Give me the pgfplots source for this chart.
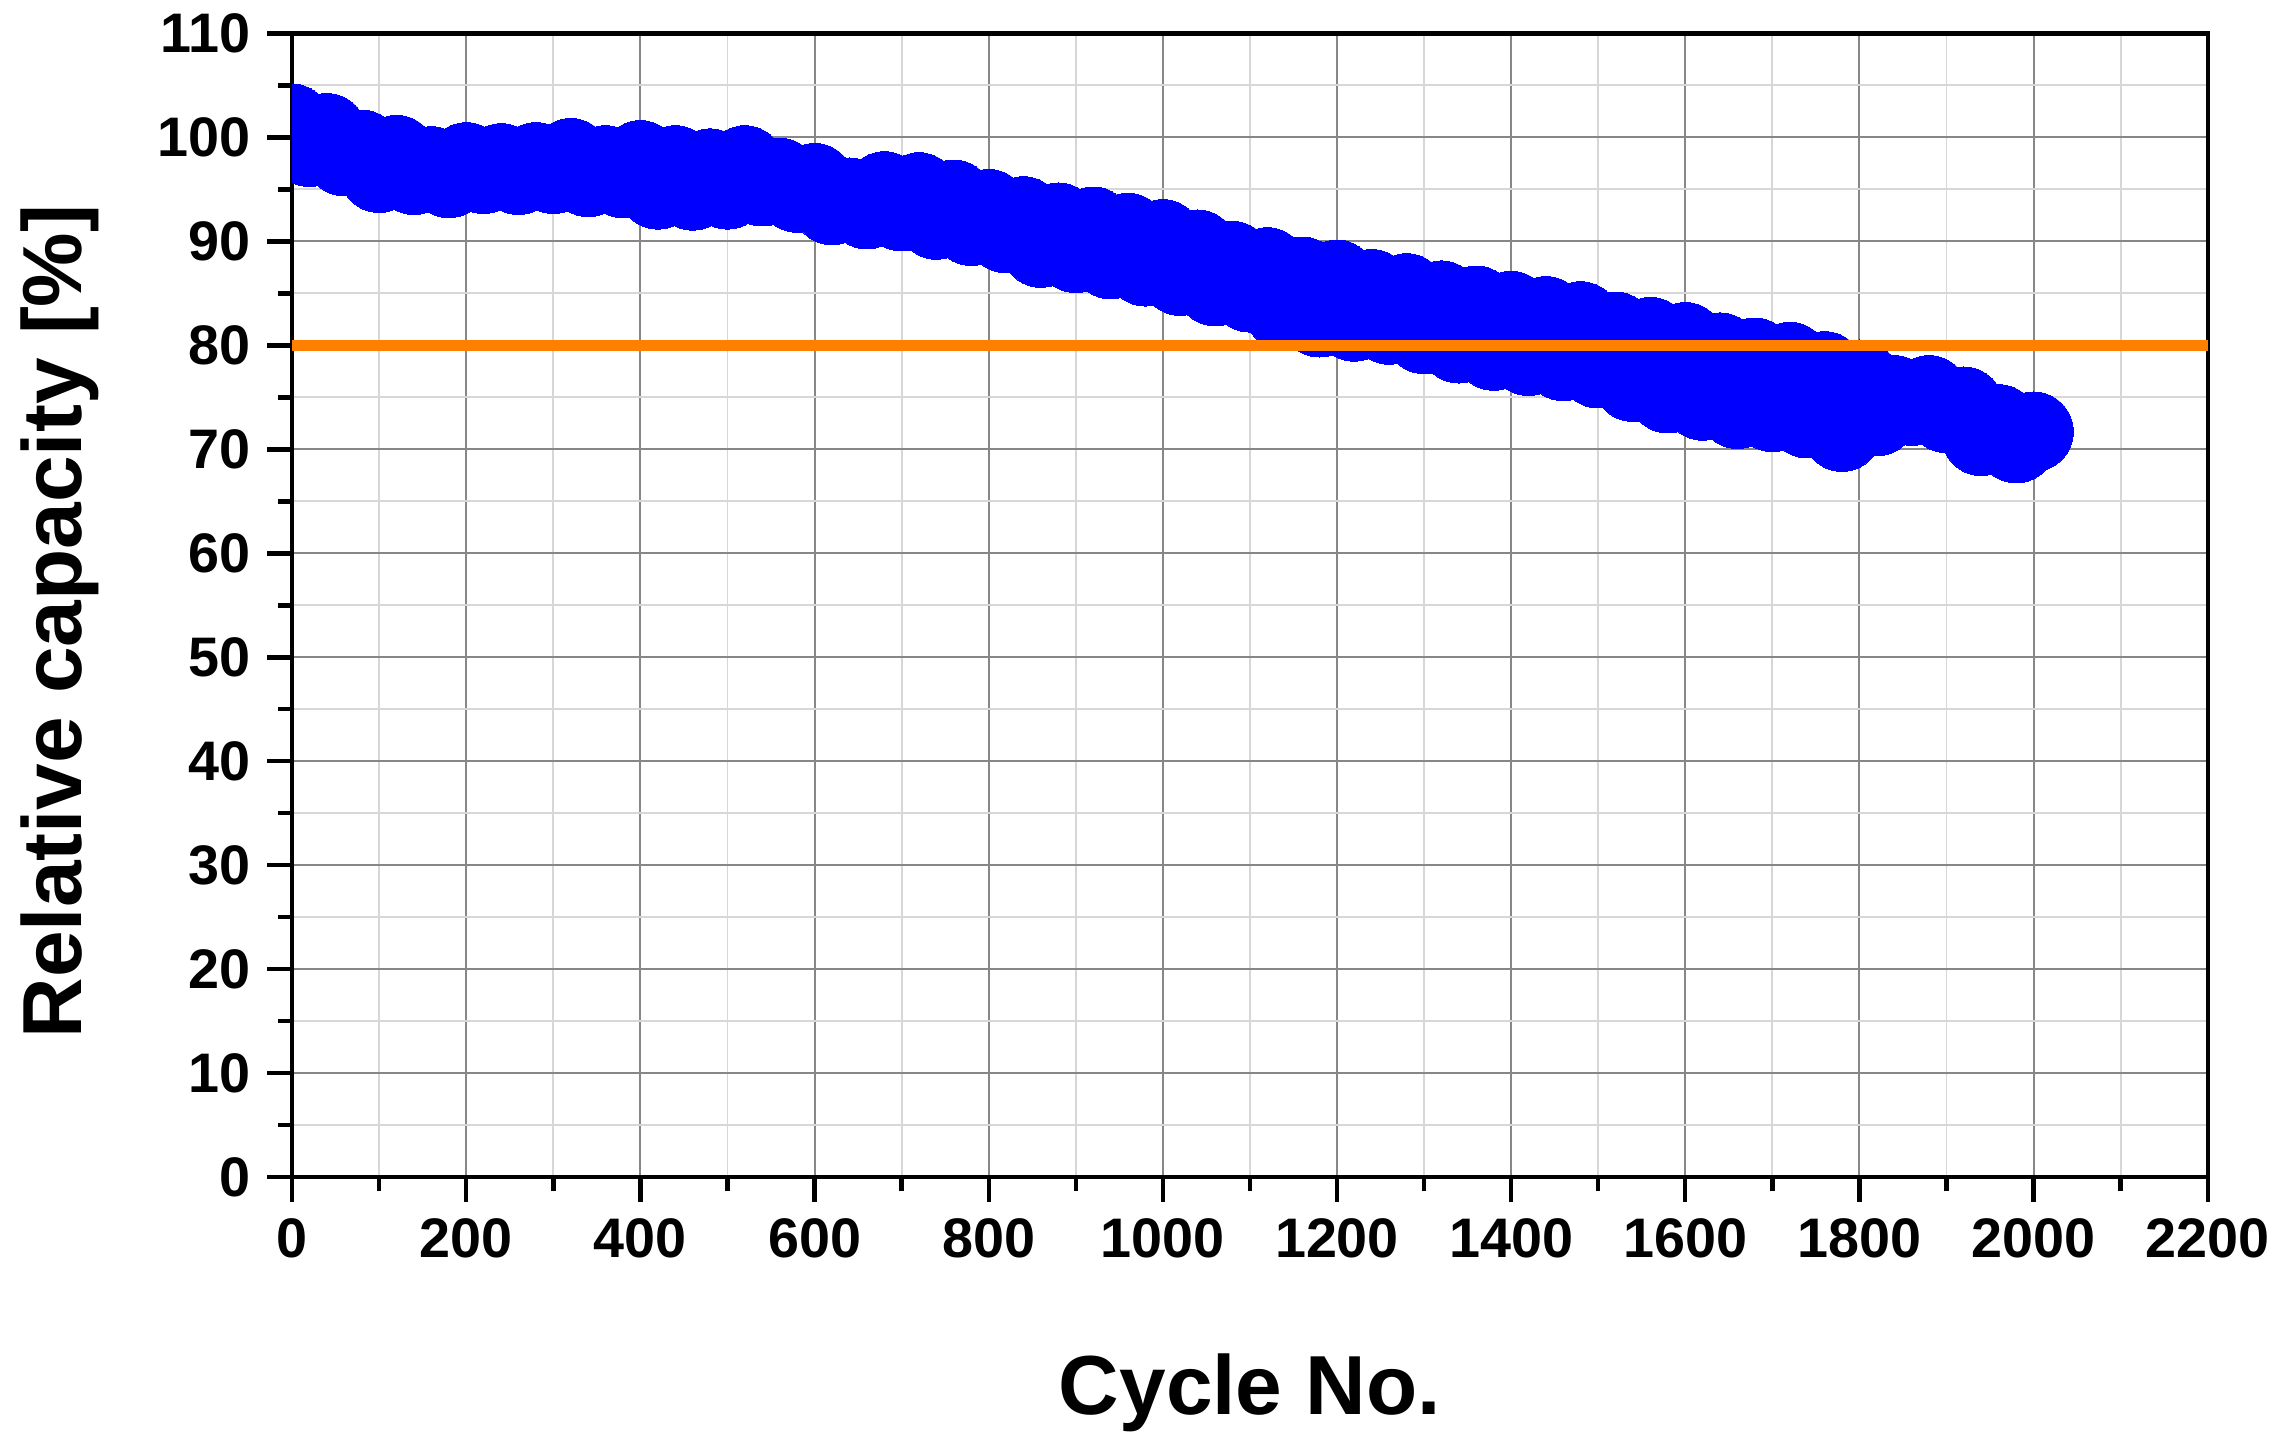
\documentclass[border=0pt]{standalone}
\usepackage{pgfplots}
\pgfplotsset{compat=1.18}
\usepackage{fontspec}
\setmainfont{Liberation Sans}
\setsansfont{Liberation Sans}
\definecolor{myorange}{RGB}{255,128,0}
\definecolor{myblue}{RGB}{0,0,255}
\definecolor{majgrid}{RGB}{135,135,135}
\definecolor{mingrid}{RGB}{215,215,215}
\begin{document}
\begin{tikzpicture}
\begin{axis}[
  scale only axis,
  width=395.4pt, height=236.1pt,
  xmin=0, xmax=2200, ymin=0, ymax=110,
  clip marker paths=true,
  xtick distance=200, ytick distance=10,
  minor x tick num=1, minor y tick num=1,
  tick pos=left, tick align=outside,
  major tick length=5.1pt, minor tick length=2.9pt,
  every tick/.style={black, line width=0.9pt},
  grid=both,
  major grid style={majgrid, line width=0.4pt},
  minor grid style={mingrid, line width=0.4pt},
  axis line style={line width=0.9pt},
  ticklabel style={font=\fontsize{11.5}{13}\selectfont\bfseries},
  /pgf/number format/assume math mode=true,
  /pgf/number format/1000 sep={},
  xlabel={Cycle No.}, ylabel={Relative capacity [\%]},
  label style={font=\fontsize{17.3}{20}\selectfont\bfseries},
  xlabel style={at={(axis description cs:0.5,-0.207)}, anchor=base},
  ylabel style={at={(axis description cs:-0.11,0.486)}, anchor=base},
]
\addplot[only marks, mark=*, mark size=8.2pt, mark options={fill=myblue, draw=myblue, line width=0pt}] coordinates {
(0,101.3) (20,99.1) (40,100.4) (60,98.2) (80,98.8) (100,96.6) (120,98.3) (140,96.4)
(160,97.2) (180,96.1) (200,97.6) (220,96.5) (240,97.5) (260,96.4) (280,97.6) (300,96.5)
(320,98.0) (340,96.2) (360,97.3) (380,96.1) (400,97.8) (420,95.0) (440,97.3) (460,94.9)
(480,97.0) (500,95.0) (520,97.3) (540,95.3) (560,96.1) (580,94.7) (600,95.6) (620,93.5)
(640,94.2) (660,93.1) (680,94.8) (700,92.9) (720,94.7) (740,92.1) (760,94.0) (780,91.5)
(800,93.1) (820,90.8) (840,92.4) (860,89.4) (880,91.8) (900,88.9) (920,91.4) (940,88.3)
(960,90.8) (980,87.6) (1000,90.2) (1020,86.7) (1040,89.2) (1060,85.7) (1080,88.1) (1100,85.1)
(1120,87.5) (1140,83.3) (1160,86.6) (1180,82.7) (1200,86.3) (1220,82.3) (1240,85.4) (1260,82.0)
(1280,85.0) (1300,81.1) (1320,84.3) (1340,80.2) (1360,83.8) (1380,79.5) (1400,83.3) (1420,79.0)
(1440,82.8) (1460,78.5) (1480,82.3) (1500,77.8) (1520,81.3) (1540,76.5) (1560,80.8) (1580,75.4)
(1600,80.3) (1620,74.7) (1640,79.3) (1660,73.9) (1680,78.8) (1700,73.6) (1720,78.4) (1740,73.0)
(1760,77.5) (1780,71.7) (1800,76.7) (1820,73.2) (1840,75.2) (1860,74.2) (1880,75.2) (1900,73.5)
(1920,74.1) (1940,71.3) (1960,72.4) (1980,70.6) (2000,71.7)
};
\addplot[myorange, line width=2.2pt, forget plot] coordinates {(0,80) (2200,80)};
\coordinate (bbl) at (rel axis cs:-0.1525,-0.2249);
\coordinate (btr) at (rel axis cs:1.0372,1.0292);
\end{axis}
\pgfresetboundingbox
\path[use as bounding box] (bbl) rectangle (btr);
\end{tikzpicture}
\end{document}
